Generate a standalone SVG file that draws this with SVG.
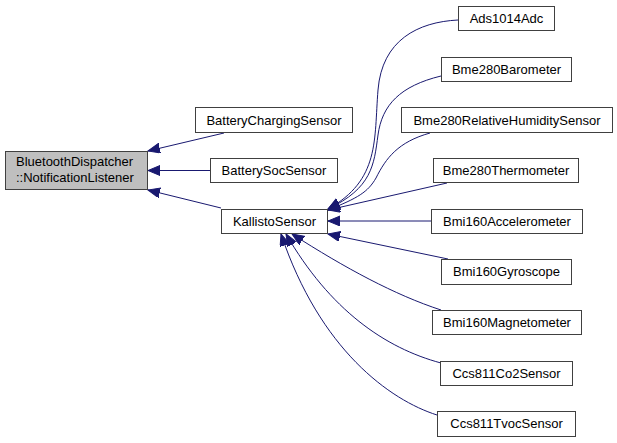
<svg xmlns="http://www.w3.org/2000/svg" width="617" height="443" viewBox="0 0 617 443">
<style>
.box{fill:#ffffff;stroke:#404040;stroke-width:1}
.root{fill:#bfbfbf;stroke:#404040;stroke-width:1}
.lbl{font-family:"Liberation Sans",Arial,sans-serif;font-size:13px;fill:#000000;text-anchor:middle}
.lbll{font-family:"Liberation Sans",Arial,sans-serif;font-size:13px;fill:#000000}
.edge{fill:none;stroke:#191970;stroke-width:1}
</style>
<defs>
<marker id="ah" markerUnits="userSpaceOnUse" markerWidth="14" markerHeight="12" refX="12" refY="5" orient="auto">
<path d="M0,0 L12,5 L0,10 Z" fill="#191970" stroke="#191970" stroke-width="1"/>
</marker>
</defs>
<rect width="617" height="443" fill="#ffffff"/>
<g id="edges">
<path class="edge" marker-end="url(#ah)" d="M224,133 L148,151"/>
<path class="edge" marker-end="url(#ah)" d="M210,170.5 L148,170.5"/>
<path class="edge" marker-end="url(#ah)" d="M221,208 L148,190"/>
<path class="edge" marker-end="url(#ah)" d="M458,20 C418,22 382,40 378,90 C374,140 380,180 328,209"/>
<path class="edge" marker-end="url(#ah)" d="M441,76 C400,86 382,105 378,135 C374,165 372,188 328,209"/>
<path class="edge" marker-end="url(#ah)" d="M430,133 C398,142 386,158 376,178 C368,192 358,198 328,210"/>
<path class="edge" marker-end="url(#ah)" d="M447,183 L328,210"/>
<path class="edge" marker-end="url(#ah)" d="M431,221 L328,221"/>
<path class="edge" marker-end="url(#ah)" d="M448,259 L328,234"/>
<path class="edge" marker-end="url(#ah)" d="M441,310 C395,295 345,268 292,234"/>
<path class="edge" marker-end="url(#ah)" d="M441,363 C385,348 330,310 286,234"/>
<path class="edge" marker-end="url(#ah)" d="M437,415 C390,400 320,350 281,234"/>
</g>
<g id="node-bluetoothdispatcher">
<rect class="root" x="5.5" y="151.5" width="142" height="38"/>
<text class="lbll" x="16" y="166">BluetoothDispatcher</text>
<text class="lbll" x="16" y="182">::NotificationListener</text>
</g>
<g id="node-batterychargingsensor">
<rect class="box" x="195.5" y="107.5" width="157" height="25"/>
<text class="lbl" x="274" y="124.5">BatteryChargingSensor</text>
</g>
<g id="node-batterysocsensor">
<rect class="box" x="210.5" y="158.5" width="127" height="24"/>
<text class="lbl" x="274" y="175">BatterySocSensor</text>
</g>
<g id="node-kallistosensor">
<rect class="box" x="221.5" y="209.5" width="106" height="24"/>
<text class="lbl" x="274.5" y="226">KallistoSensor</text>
</g>
<g id="node-ads1014adc">
<rect class="box" x="458.5" y="6.5" width="96" height="24"/>
<text class="lbl" x="506.5" y="23">Ads1014Adc</text>
</g>
<g id="node-bme280barometer">
<rect class="box" x="441.5" y="57.5" width="130" height="24"/>
<text class="lbl" x="506.5" y="74">Bme280Barometer</text>
</g>
<g id="node-bme280relativehumiditysensor">
<rect class="box" x="401.5" y="107.5" width="211" height="25"/>
<text class="lbl" x="507" y="124.5">Bme280RelativeHumiditySensor</text>
</g>
<g id="node-bme280thermometer">
<rect class="box" x="433.5" y="158.5" width="145" height="24"/>
<text class="lbl" x="506" y="175">Bme280Thermometer</text>
</g>
<g id="node-bmi160accelerometer">
<rect class="box" x="431.5" y="209.5" width="151" height="24"/>
<text class="lbl" x="507" y="226">Bmi160Accelerometer</text>
</g>
<g id="node-bmi160gyroscope">
<rect class="box" x="441.5" y="259.5" width="130" height="25"/>
<text class="lbl" x="506.5" y="276">Bmi160Gyroscope</text>
</g>
<g id="node-bmi160magnetometer">
<rect class="box" x="432.5" y="310.5" width="149" height="24"/>
<text class="lbl" x="507" y="327">Bmi160Magnetometer</text>
</g>
<g id="node-ccs811co2sensor">
<rect class="box" x="440.5" y="361.5" width="132" height="24"/>
<text class="lbl" x="506.5" y="378">Ccs811Co2Sensor</text>
</g>
<g id="node-ccs811tvocsensor">
<rect class="box" x="437.5" y="411.5" width="138" height="25"/>
<text class="lbl" x="506.5" y="428">Ccs811TvocSensor</text>
</g>
</svg>
